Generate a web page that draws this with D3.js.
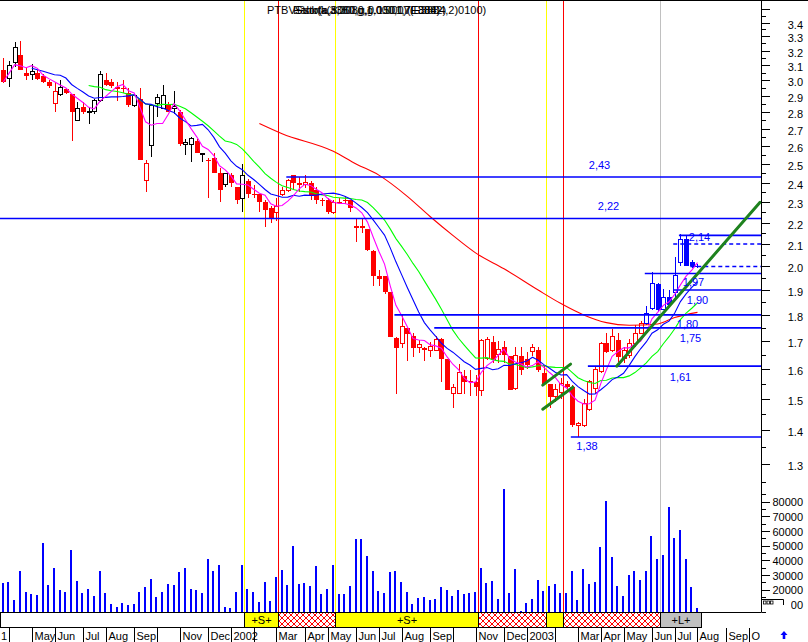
<!DOCTYPE html>
<html><head><meta charset="utf-8">
<script src="https://cdn.jsdelivr.net/npm/d3@7/dist/d3.min.js"></script>
<style>
html,body{margin:0;padding:0;background:#fff;overflow:hidden}
svg{display:block}
text{font-family:"Liberation Sans",Arial,Helvetica,sans-serif}
</style></head><body>
<svg id="chart" width="808" height="642"></svg>
<script>
// ================= DATA =================
const firstWeek = [2001, 2, 30];   // first weekly bar (Friday 30 Mar 2001)

const openP = [3.07,3.01,3.12,3.17,3.05,3.04,3.05,3.03,2.99,2.85,
2.91,2.94,2.91,2.75,2.83,2.80,2.80,2.87,3.00,2.99,
2.95,2.95,2.92,2.84,2.88,2.41,2.60,2.85,2.82,2.84,
2.82,2.80,2.61,2.61,2.63,2.55,2.52,2.53,2.45,2.39,
2.44,2.38,2.32,2.41,2.34,2.34,2.30,2.27,2.25,2.34,
2.36,2.44,2.40,2.39,2.40,2.36,2.31,2.31,2.25,2.30,
2.31,2.31,2.18,2.18,2.17,2.07,1.96,1.96,1.89,1.71,
1.69,1.75,1.72,1.675,1.675,1.667,1.667,1.707,1.634,1.517,
1.517,1.576,1.556,1.556,1.528,1.637,1.697,1.652,1.677,1.645,
1.534,1.645,1.634,1.663,1.667,1.587,1.549,1.506,1.52,1.55,
1.538,1.416,1.416,1.466,1.534,1.59,1.694,1.667,1.706,1.637,
1.648,1.69,1.73,1.765,1.824,1.926,1.82,1.87,1.89,2.018,
2.125,2.02,2.005];

const highP = [3.15,3.13,3.26,3.27,3.08,3.11,3.07,3.04,3.00,2.99,
3.00,2.95,2.91,2.86,2.86,2.83,2.88,3.06,3.05,3.01,
2.99,3.00,2.95,2.91,2.95,2.52,2.84,2.91,2.97,2.86,
2.93,2.81,2.64,2.65,2.64,2.56,2.53,2.56,2.48,2.45,
2.45,2.38,2.50,2.42,2.39,2.34,2.31,2.28,2.32,2.38,
2.42,2.44,2.43,2.44,2.41,2.38,2.32,2.32,2.31,2.32,
2.33,2.31,2.22,2.22,2.17,2.074,1.986,1.96,1.894,1.715,
1.798,1.75,1.73,1.706,1.68,1.697,1.72,1.71,1.634,1.55,
1.617,1.595,1.595,1.58,1.709,1.715,1.72,1.70,1.70,1.645,
1.68,1.68,1.66,1.69,1.68,1.61,1.549,1.549,1.57,1.56,
1.545,1.427,1.50,1.562,1.61,1.697,1.73,1.745,1.73,1.68,
1.709,1.76,1.775,1.837,1.975,1.93,1.905,1.90,2.04,2.146,
2.14,2.03,2.01];

const lowP = [2.98,2.955,3.09,3.07,3.00,3.00,3.00,2.98,2.95,2.80,
2.90,2.91,2.63,2.75,2.79,2.73,2.79,2.86,2.96,2.95,
2.87,2.92,2.83,2.83,2.52,2.35,2.54,2.77,2.82,2.80,
2.79,2.60,2.55,2.51,2.56,2.51,2.32,2.45,2.30,2.38,
2.38,2.29,2.25,2.32,2.32,2.25,2.18,2.20,2.21,2.33,
2.35,2.36,2.35,2.37,2.31,2.29,2.28,2.24,2.24,2.29,
2.29,2.25,2.108,2.15,2.068,1.915,1.915,1.885,1.715,1.517,
1.675,1.629,1.643,1.657,1.629,1.643,1.665,1.556,1.528,1.469,
1.515,1.517,1.51,1.51,1.51,1.63,1.62,1.62,1.62,1.528,
1.528,1.578,1.60,1.645,1.59,1.549,1.469,1.488,1.50,1.53,
1.41,1.38,1.41,1.46,1.52,1.585,1.655,1.66,1.624,1.62,
1.64,1.68,1.725,1.76,1.818,1.81,1.82,1.83,1.87,2.0,
2.0,1.995,1.995];

const closeP = [2.99,3.10,3.22,3.07,3.03,3.06,3.01,2.99,2.96,2.93,
2.95,2.92,2.80,2.82,2.80,2.80,2.87,3.04,2.97,2.96,
2.95,2.94,2.84,2.90,2.52,2.50,2.84,2.89,2.90,2.80,
2.83,2.61,2.62,2.64,2.56,2.56,2.52,2.45,2.36,2.45,
2.40,2.31,2.44,2.34,2.34,2.30,2.26,2.22,2.28,2.36,
2.41,2.40,2.39,2.40,2.33,2.31,2.31,2.25,2.30,2.30,
2.31,2.27,2.18,2.18,2.074,1.958,1.947,1.894,1.715,1.675,
1.757,1.728,1.675,1.687,1.666,1.679,1.706,1.634,1.528,1.537,
1.587,1.556,1.558,1.538,1.701,1.706,1.631,1.669,1.648,1.528,
1.648,1.596,1.613,1.675,1.596,1.549,1.506,1.531,1.552,1.54,
1.416,1.42,1.485,1.556,1.598,1.691,1.66,1.718,1.641,1.667,
1.691,1.73,1.768,1.807,1.926,1.818,1.87,1.84,1.96,2.119,
2.004,2.00,2.00];

const volume = [24300,25200,13000,32700,18400,16800,16100,51800,23000,34800,
19800,18400,47000,25900,17700,20400,15500,32700,17700,10200,
8000,10900,9500,10200,18400,21800,27300,15000,18400,23900,
23000,32000,34800,20400,19800,17700,40900,32700,36800,8200,
7300,18400,36800,20400,18400,11600,25200,12300,28600,33400,
23000,49800,23600,24500,22500,36100,17000,20400,36800,16800,
16800,22500,54500,54500,42900,32700,19100,
17700,32000,32700,25200,18400,10200,14300,15000,13000,13600,
21800,19800,15700,19800,17000,17700,18400,34800,24500,25900,
13600,88600,17700,34100,5500,10900,13600,26600,19100,22500,
23900,17700,17700,32700,13000,34100,23900,25200,49100,80400,
42300,22500,15700,30000,32700,26600,32700,56600,40900,43600,
76300,55200,60700,40900,21800,7500];

// long moving average (red): [week index, value]
const longMA = [[45,2.73],[49,2.67],[58,2.57],[62,2.50],[66,2.44],[71,2.33],[75,2.23],
[79,2.14],[83,2.06],[88,1.99],[94,1.90],[98,1.845],[102,1.80],[106,1.77],[110,1.76],
[115,1.765],[118,1.79],[122,1.81]];

// moving-average windows (weeks) of the short averages
const maMagentaWeeks = 5, maBlueWeeks = 10, maGreenWeeks = 16;

// support / resistance levels
const levelValues = [2.43, 2.22, 2.14, 2.10, 2.00, 1.97, 1.90, 1.80, 1.75, 1.61, 1.38];
const levelFrom   = [50, 0, 119, 118, 121, 113, 118, 69, 76, 103, 100];
const levelText   = ["2,43","2,22","2,14","","","1,97","1,90","1,80","1,75","1,61","1,38"];
const levelDashed = [false,false,false,true,true,false,false,false,false,false,false];

// signals: week index and type
const signalWeeks = [42, 48, 58, 83, 95, 98, 115];
const signalTypes = ["S","X","S","X","S","X","L"];
const signalEnd = 122;

// trend lines [week, price, week, price]
const trendLines = [[107.8,1.61,133,2.30],[94.8,1.545,99.7,1.617],[94.8,1.466,100.1,1.538]];

// month tick labels, one per month starting March 2001
const monthLabels = ["1","","May","Jun","Jul","Aug","Sep","","Nov","Dec",
"2002","","Mar","Apr","May","Jun","Jul","Aug","Sep","","Nov","Dec",
"2003","","Mar","Apr","May","Jun","Jul","Aug","Sep","Oct"];

const priceTickLabels = ["1.3","1.4","1.5","1.6","1.7","1.8","1.9","2.0","2.1","2.2","2.3","2.4","2.5","2.6","2.7","2.8","2.9","3.0","3.1","3.2","3.3","3.4"];
const volTickLabels = ["10000","20000","30000","40000","50000","60000","70000","80000"];

const titleParts = ["PTBV","Ealcrtk(a,3080,g,0.0007(E3884,2)0100)","Stok(a,3380,g,1.000,1)(E3882)","Fsto(a,3060,g,0.1501,7E884)"];

// ================= LAYOUT / STYLE =================
const C = {red:"#ff0000", blue:"#0000ff", black:"#000000", magenta:"#ff00ff", lime:"#00ff00",
  yellow:"#ffff00", gray:"#c0c0c0", dgreen:"#1e821e"};
const AX = 761.5, BAND_TOP = 612.5, BAND_BOT = 627.5;
const colorZones = [{from:43,color:C.red},{from:113,color:C.blue}];
const levelLabelOffset = {"2,43":[-162,-12],"2,22":[-153,-13],"2,14":[-62,1.5],"1,97":[-68,9],
 "1,90":[-64,9.5],"1,80":[-74,9],"1,75":[-71,10.5],"1,61":[-81,10.5],"1,38":[-174.5,9]};

const svg = d3.select("#chart");
const n = closeP.length;
const bars = d3.range(n).map(i => ({i, o:openP[i], h:highP[i], l:lowP[i], c:closeP[i], v:volume[i]}));
const d0 = new Date(firstWeek[0], firstWeek[1], firstWeek[2]);
const WEEK = 7*864e5;

const x = d3.scaleLinear().domain([0,121]).range([3.3, 691.8]);
const y = d3.scaleLog().domain([1.38, 2.43]).range([437, 177]);
const yv = d3.scaleLinear().domain([0, 80000]).range([619, 501.7]);

svg.append("rect").attr("width",808).attr("height",642).attr("fill","#fff");
const defs = svg.append("defs");
defs.append("clipPath").attr("id","plot").append("rect").attr("x",0).attr("y",1).attr("width",AX).attr("height",BAND_TOP-1);
defs.append("clipPath").attr("id","xlab").append("rect").attr("x",0).attr("y",628).attr("width",760).attr("height",20);
const pat = defs.append("pattern").attr("id","hatch").attr("patternUnits","userSpaceOnUse").attr("width",6).attr("height",6);
pat.append("rect").attr("width",6).attr("height",6).attr("fill","#fff");
pat.append("path").attr("d","M0,0L6,6M6,0L0,6").attr("stroke",C.red).attr("stroke-width",1);

const plot = svg.append("g").attr("clip-path","url(#plot)");

// signal vertical lines
const sigColor = t => t==="S" ? C.yellow : t==="X" ? C.red : C.gray;
signalWeeks.forEach((w,k) => {
  const xx = Math.round(x(w)+2)+0.5;
  plot.append("line").attr("x1",xx).attr("x2",xx).attr("y1",1).attr("y2",BAND_TOP)
    .attr("stroke",sigColor(signalTypes[k])).attr("stroke-width",1);
});

// volume bars
plot.append("g").selectAll("rect").data(bars).join("rect")
  .attr("x", d => x(d.i)-1.5).attr("width",2)
  .attr("y", d => yv(d.v)).attr("height", d => Math.max(0, BAND_TOP - yv(d.v)))
  .attr("fill", C.blue).attr("shape-rendering","crispEdges");

// candles
function candleColor(d){
  let col = null;
  colorZones.forEach(z => { if (d.i >= z.from) col = z.color; });
  if (col) return col;
  if (d.i === 0) return d.c < d.o ? C.red : C.black;
  return d.c < closeP[d.i-1] ? C.red : C.black;
}
const cg = plot.append("g").attr("shape-rendering","crispEdges");
bars.forEach(d => {
  const cx = Math.round(x(d.i)) + 0.5, col = candleColor(d);
  cg.append("line").attr("x1",cx).attr("x2",cx).attr("y1",y(d.h)).attr("y2",y(d.l)).attr("stroke",col);
  const yo = y(d.o), yc = y(d.c);
  if (Math.abs(yo-yc) < 1.2) {
    cg.append("line").attr("x1",cx-2.5).attr("x2",cx+2.5).attr("y1",yc).attr("y2",yc).attr("stroke",col).attr("stroke-width",1.5);
  } else if (d.c > d.o) {
    cg.append("rect").attr("x",cx-2).attr("y",yc).attr("width",4).attr("height",yo-yc)
      .attr("fill","#fff").attr("stroke",col);
  } else {
    cg.append("rect").attr("x",cx-2.5).attr("y",yo).attr("width",5).attr("height",yc-yo).attr("fill",col);
  }
});

// moving averages
function sma(w, start){
  return bars.filter(d => d.i >= start).map(d => {
    const a = closeP.slice(Math.max(0, d.i-w+1), d.i+1);
    return [d.i, d3.mean(a)];
  });
}
const line = d3.line().x(p => x(p[0])).y(p => y(p[1]));
const maDefs = [
  {pts: longMA, col: C.red, curve: d3.curveMonotoneX},
  {pts: sma(maGreenWeeks, 15), col: C.lime},
  {pts: sma(maBlueWeeks, 5), col: C.blue},
  {pts: sma(maMagentaWeeks, 0), col: C.magenta}
];
maDefs.forEach(m => {
  plot.append("path").attr("d", line.curve(m.curve || d3.curveLinear)(m.pts))
    .attr("fill","none").attr("stroke",m.col).attr("stroke-width",1.1);
});

// level lines
levelValues.forEach((v,k) => {
  const yy = y(v);
  plot.append("line").attr("x1", levelFrom[k]===0 ? 0 : x(levelFrom[k])-1.5).attr("x2",AX)
    .attr("y1",yy).attr("y2",yy).attr("stroke",C.blue).attr("stroke-width",1.6)
    .attr("stroke-dasharray", levelDashed[k] ? "4,3" : null);
  const t = levelText[k];
  if (t) {
    const off = levelLabelOffset[t];
    svg.append("text").attr("x",AX+off[0]).attr("y",yy+off[1]+4).attr("text-anchor","middle")
      .attr("font-size",11).attr("fill",C.blue).text(t);
  }
});

// trend lines
trendLines.forEach(t => {
  plot.append("line").attr("x1",x(t[0])).attr("y1",y(t[1])).attr("x2",x(t[2])).attr("y2",y(t[3]))
    .attr("stroke",C.dgreen).attr("stroke-width",3).attr("stroke-linecap","round");
});

// title (overlapping strings, as in the original)
titleParts.forEach((s,k) => {
  svg.append("text").attr("x", k===0 ? 267 : 293 + (k-1)*2).attr("y",14)
    .attr("font-size",11).attr("fill","#000").text(s);
});

// frame lines
svg.append("line").attr("x1",0).attr("x2",808).attr("y1",0.5).attr("y2",0.5).attr("stroke","#000");
svg.append("line").attr("x1",AX).attr("x2",AX).attr("y1",0).attr("y2",BAND_TOP).attr("stroke","#000");

// right axis: price
const pt = svg.append("g").attr("shape-rendering","crispEdges");
for (let k = 25; k <= 70; k++) {
  const v = k/20, yy = Math.round(y(v))+0.5;
  if (yy < 4 || yy > 488) continue;
  const major = k % 2 === 0;
  pt.append("line").attr("x1",AX).attr("x2",AX+(major?8:4)).attr("y1",yy).attr("y2",yy).attr("stroke","#000");
}
priceTickLabels.forEach(s => {
  svg.append("text").attr("x",803).attr("y",y(+s)+6).attr("text-anchor","end")
    .attr("font-size",11).attr("fill","#000").text(s);
});
// right axis: volume
for (let v = 0; v <= 85000; v += 5000) {
  const yy = Math.round(yv(v))+0.5;
  if (yy > BAND_TOP) continue;
  pt.append("line").attr("x1",AX).attr("x2",AX+(v%10000===0?8:4)).attr("y1",yy).attr("y2",yy).attr("stroke","#000");
}
volTickLabels.forEach(s => {
  svg.append("text").attr("x",803).attr("y",yv(+s)+4.5).attr("text-anchor","end")
    .attr("font-size",11).attr("fill","#000").text(s);
});
// little legend box covering the lowest label
svg.append("rect").attr("x",762).attr("y",598).attr("width",29).attr("height",14).attr("fill","#fff");
svg.append("path").attr("d","M762,599.5H783.5V605").attr("stroke","#000").attr("fill","none");
[763.5,767,770.5].forEach(xx => svg.append("rect").attr("x",xx).attr("y",601).attr("width",2.5).attr("height",3).attr("fill","none").attr("stroke","#000").attr("stroke-width",0.8));

// bottom signal band
svg.append("line").attr("x1",0).attr("x2",AX).attr("y1",BAND_TOP).attr("y2",BAND_TOP).attr("stroke","#000");
const band = svg.append("g").attr("shape-rendering","crispEdges");
const segEdges = [0].concat(signalWeeks.map(w => Math.round(x(w)+2)+0.5)).concat([Math.round(x(signalEnd)+3.5)+0.5]);
for (let k = 0; k < segEdges.length-1; k++) {
  const t = k===0 ? "N" : signalTypes[k-1];
  const fill = t==="S" ? C.yellow : t==="X" ? "url(#hatch)" : t==="L" ? C.gray : "#fff";
  band.append("rect").attr("x",segEdges[k]).attr("y",BAND_TOP).attr("width",segEdges[k+1]-segEdges[k])
    .attr("height",BAND_BOT-BAND_TOP).attr("fill",fill).attr("stroke","#000");
  const wdt = segEdges[k+1]-segEdges[k];
  if ((t==="S" || t==="L") && wdt > 25) {
    svg.append("text").attr("x",(segEdges[k]+segEdges[k+1])/2).attr("y",624).attr("text-anchor","middle")
      .attr("font-size",11).attr("fill","#000").text("+"+t+"+");
  }
}

// month axis
const xl = svg.append("g").attr("clip-path","url(#xlab)");
monthLabels.forEach((lab,k) => {
  const fri = d3.timeFriday.ceil(new Date(2001, 2+k, 1));
  const wi = Math.round((fri - d0)/WEEK);
  const xx = Math.round(x(wi))+0.5;
  if (xx > 0 && xx < AX) xl.append("line").attr("x1",xx).attr("x2",xx).attr("y1",BAND_BOT).attr("y2",642).attr("stroke","#000").attr("shape-rendering","crispEdges");
  if (lab) xl.append("text").attr("x",Math.max(1, xx+2)).attr("y",640).attr("font-size",11).attr("fill","#000").text(lab);
});

// blue arrow
svg.append("path").attr("d","M784,631l3.5,4h-2.2v4h-2.6v-4h-2.2z").attr("fill",C.blue);
</script>
</body></html>
